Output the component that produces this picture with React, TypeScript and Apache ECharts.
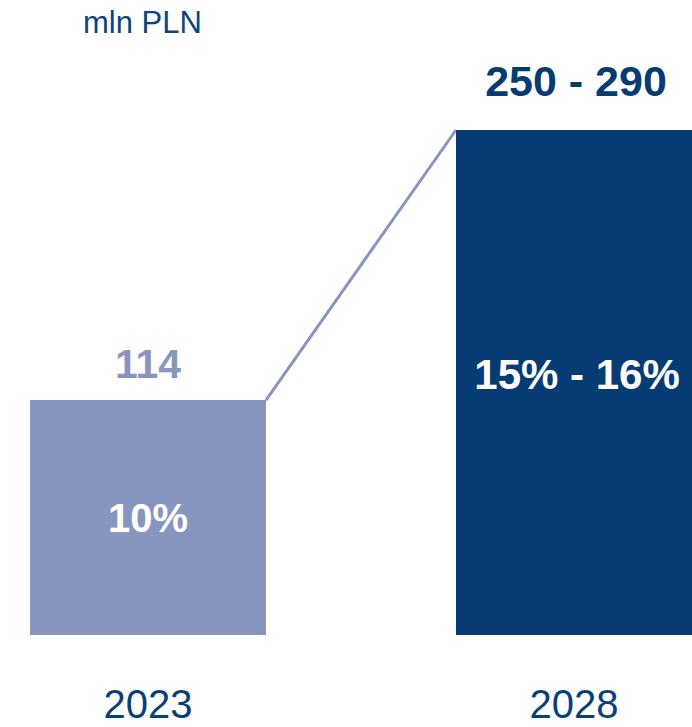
import React, { useEffect, useRef } from "react";
import * as echarts from "echarts";

const categories = ["2023", "2028"];
const barValues = [114, 245];
const topLabels = ["114", "250 - 290"];
const insideLabels = ["10%", "15% - 16%"];
const unitLabel = "mln PLN";

const DARK = "#063B74";
const LIGHT = "#8796BF";
const BAR_W = 236;
const FONT = "Liberation Sans, Arial, Helvetica, sans-serif";

export default function App() {
  const ref = useRef<HTMLDivElement>(null);
  useEffect(() => {
    if (!ref.current) return;
    const chart = echarts.init(ref.current, null, { renderer: "svg" });
    const colors = [LIGHT, DARK];
    const topStyles = [
      { color: LIGHT, fontSize: 41, distance: 16, offset: [0, 0] },
      { color: DARK, fontSize: 43, distance: 28, offset: [2, 0] },
    ];
    chart.setOption({
      animation: false,
      grid: { left: 148, right: 118, top: 130, bottom: 92, containLabel: false },
      xAxis: {
        type: "category",
        data: categories,
        boundaryGap: false,
        axisLine: { show: false },
        axisTick: { show: false },
        axisLabel: {
          color: "#0B3F78",
          fontSize: 40,
          fontFamily: FONT,
          margin: 53,
          verticalAlign: "top",
          lineHeight: 32,
        },
      },
      yAxis: {
        type: "value",
        min: 0,
        max: 245,
        show: false,
        splitLine: { show: false },
      },
      graphic: [
        {
          type: "text",
          left: 83,
          top: 7,
          style: {
            text: unitLabel,
            fill: "#0D4480",
            font: `31px ${FONT}`,
          },
        },
      ],
      series: [
        {
          type: "custom",
          z: 1,
          clip: false,
          data: [[0, barValues[0], 1, barValues[1]]],
          encode: { x: [0, 2], y: [1, 3] },
          renderItem: (params: any, api: any) => {
            const p1 = api.coord([api.value(0), api.value(1)]);
            const p2 = api.coord([api.value(2), api.value(3)]);
            return {
              type: "line",
              shape: {
                x1: p1[0] + BAR_W / 2,
                y1: p1[1],
                x2: p2[0] - BAR_W / 2,
                y2: p2[1],
              },
              style: { stroke: LIGHT, lineWidth: 3 },
            };
          },
        },
        {
          type: "bar",
          z: 2,
          clip: false,
          barWidth: BAR_W,
          data: barValues.map((v, i) => ({
            value: v,
            itemStyle: { color: colors[i] },
            label: {
              show: true,
              position: "inside",
              offset: i === 1 ? [3, -8] : [0, 0],
              formatter: insideLabels[i],
              color: "#FFFFFF",
              fontWeight: "bold",
              fontFamily: FONT,
              fontSize: i === 1 ? 42 : 40,
            },
          })),
        },
        {
          type: "bar",
          z: 3,
          clip: false,
          barWidth: BAR_W,
          barGap: "-100%",
          silent: true,
          data: barValues.map((v, i) => ({
            value: v,
            itemStyle: { color: "transparent" },
            label: {
              show: true,
              position: "top",
              distance: topStyles[i].distance,
              offset: topStyles[i].offset,
              formatter: topLabels[i],
              color: topStyles[i].color,
              fontWeight: "bold",
              fontFamily: FONT,
              fontSize: topStyles[i].fontSize,
            },
          })),
        },
      ],
    });
    return () => chart.dispose();
  }, []);
  return <div ref={ref} style={{ width: 692, height: 727, position: "absolute", left: 0, top: 0 }} />;
}
